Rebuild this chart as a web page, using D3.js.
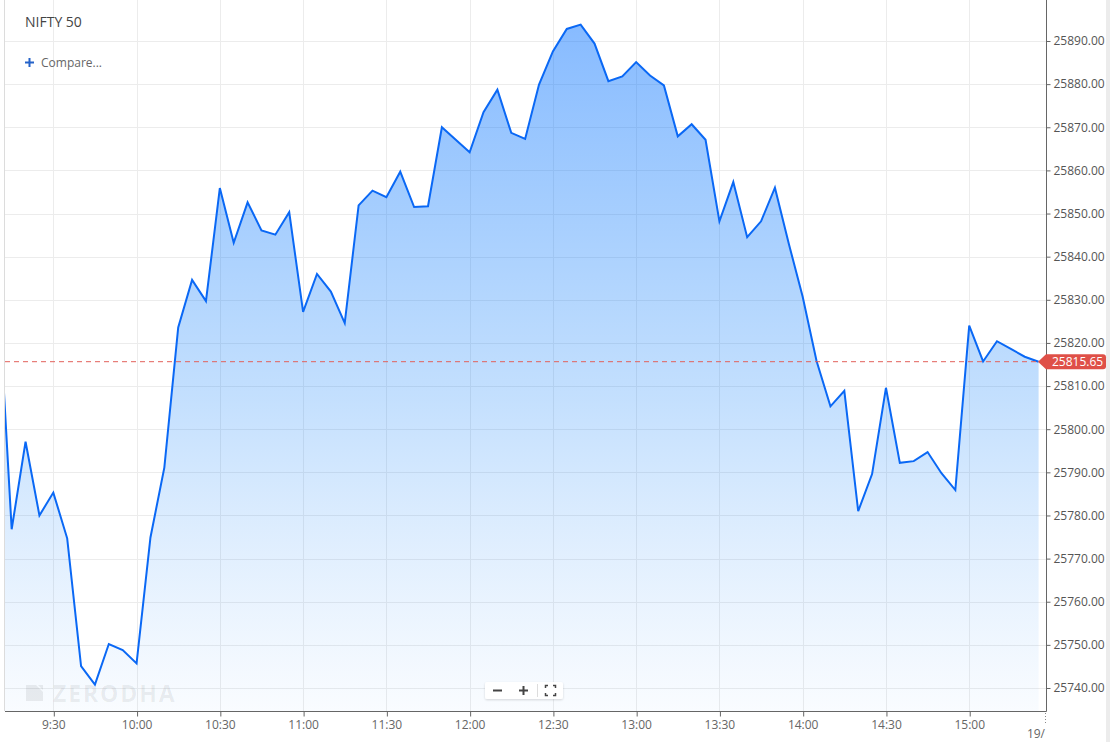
<!DOCTYPE html>
<html>
<head>
<meta charset="utf-8">
<script src="https://cdn.jsdelivr.net/npm/d3@7"></script>
<style>
    body { margin: 0; background: #fff; }
    svg { display: block; font-family: "Open Sans", sans-serif; }
</style>
</head>
<body>
<div id="canvas"></div>
<script>
/**
 * Chart data
 */
const symbolName = "NIFTY 50";
const compareLabel = "Compare...";
const lastPrice = 25815.65;

// first bar is the previous session's last 5 minute close, then 9:15 .. 15:25
const closes = [
    25834.0,
    25776.8, 25797.1, 25780.0, 25785.3, 25774.7, 25745.1, 25740.8, 25750.2, 25748.8,
    25745.7, 25774.9, 25791.1, 25823.6, 25834.6, 25829.7, 25855.9, 25843.2, 25852.6,
    25846.1, 25845.1, 25850.3, 25827.2, 25836.0, 25831.9, 25824.6, 25851.9, 25855.3,
    25853.8, 25859.7, 25851.5, 25851.7, 25870.0, 25867.1, 25864.2, 25873.5, 25878.7,
    25868.7, 25867.3, 25879.9, 25887.6, 25892.8, 25893.8, 25889.4, 25880.7, 25881.8,
    25885.1, 25882.0, 25879.7, 25867.9, 25870.7, 25867.1, 25848.2, 25857.3, 25844.5,
    25848.2, 25856.0, 25843.0, 25830.7, 25815.8, 25805.3, 25808.9, 25781.0, 25789.6,
    25809.6, 25792.2, 25792.6, 25794.7, 25789.8, 25785.9, 25824.0, 25815.7, 25820.4,
    25818.6, 25816.8, 25815.65
];

const timeTicks = ["9:30", "10:00", "10:30", "11:00", "11:30", "12:00", "12:30",
    "13:00", "13:30", "14:00", "14:30", "15:00"];
const priceTicks = [25740, 25750, 25760, 25770, 25780, 25790, 25800, 25810,
    25820, 25830, 25840, 25850, 25860, 25870, 25880, 25890];
const dateTick = "19/";

/**
 * Helper Functions
 */
// bar index of a "h:mm" label, index 1 is 9:15
const barIndex = (label) => {
    const parts = label.split(":").map(Number);
    return 1 + ((parts[0] * 60 + parts[1]) - (9 * 60 + 15)) / 5;
}

function drawChart() {
    const width = 1110, height = 742;
    const plot = {left: 5, right: 1046, top: 0, bottom: 711};

    const svg = d3.select("#canvas")
        .append("svg")
        .attr("width", width)
        .attr("height", height);

    const x = d3.scaleLinear()
        .domain([0, closes.length - 1])
        .range([-2.2, 1038.6]);

    const y = d3.scaleLinear()
        .domain([25740, 25890])
        .range([688, 41]);

    const defs = svg.append("defs");

    defs.append("clipPath")
        .attr("id", "clip")
        .append("rect")
        .attr("x", plot.left)
        .attr("y", plot.top)
        .attr("width", plot.right - plot.left)
        .attr("height", plot.bottom - plot.top);

    const grad = defs.append("linearGradient")
        .attr("id", "areaFill")
        .attr("gradientUnits", "userSpaceOnUse")
        .attr("x1", 0).attr("x2", 0)
        .attr("y1", 25).attr("y2", plot.bottom);
    grad.append("stop").attr("offset", "0%").attr("stop-color", "rgb(0,110,255)").attr("stop-opacity", 0.47);
    grad.append("stop").attr("offset", "55%").attr("stop-color", "rgb(0,120,250)").attr("stop-opacity", 0.23);
    grad.append("stop").attr("offset", "100%").attr("stop-color", "rgb(60,150,250)").attr("stop-opacity", 0.03);

    const shadow = defs.append("filter").attr("id", "shadow")
        .attr("x", "-20%").attr("y", "-40%").attr("width", "140%").attr("height", "180%");
    shadow.append("feDropShadow")
        .attr("dx", 0).attr("dy", 1).attr("stdDeviation", 1.2)
        .attr("flood-color", "#000").attr("flood-opacity", 0.15);

    // right edge strip and left border
    svg.append("rect")
        .attr("x", 1106).attr("y", 0)
        .attr("width", 4).attr("height", height)
        .attr("fill", "#ececec");
    svg.append("line")
        .attr("x1", 4.5).attr("x2", 4.5)
        .attr("y1", 0).attr("y2", plot.bottom)
        .attr("stroke", "#dcdcdc");

    // grid lines
    const grid = svg.append("g").attr("stroke", "#ececec").attr("stroke-width", 1);
    grid.selectAll(".hgrid")
        .data(priceTicks)
        .enter()
        .append("line")
        .attr("x1", plot.left).attr("x2", plot.right)
        .attr("y1", d => Math.round(y(d)) + 0.5)
        .attr("y2", d => Math.round(y(d)) + 0.5);
    grid.selectAll(".vgrid")
        .data(timeTicks)
        .enter()
        .append("line")
        .attr("y1", plot.top).attr("y2", plot.bottom)
        .attr("x1", d => Math.round(x(barIndex(d))) + 0.5)
        .attr("x2", d => Math.round(x(barIndex(d))) + 0.5);

    // watermark
    const wm = svg.append("g").attr("fill", "#000").attr("fill-opacity", 0.07);
    wm.append("path").attr("d", "M26,685 L36,685 L43,692 L43,701 L26,701 Z");
    wm.append("path").attr("d", "M38,685 L43,685 L43,690 Z");
    wm.append("text")
        .attr("x", 53).attr("y", 701.5)
        .attr("font-size", 23).attr("font-weight", 700)
        .attr("letter-spacing", 1.9)
        .text("ZERODHA");

    // area and line
    const chart = svg.append("g").attr("clip-path", "url(#clip)");

    chart.append("path")
        .datum(closes)
        .attr("fill", "url(#areaFill)")
        .attr("d", d3.area()
            .x((d, i) => x(i))
            .y0(plot.bottom)
            .y1(d => y(d)));

    chart.append("path")
        .datum(closes)
        .attr("fill", "none")
        .attr("stroke", "#0a68f5")
        .attr("stroke-width", 2)
        .attr("stroke-linejoin", "miter")
        .attr("d", d3.line()
            .x((d, i) => x(i))
            .y(d => y(d)));

    // last price line
    svg.append("line")
        .attr("x1", plot.left).attr("x2", 1040)
        .attr("y1", y(lastPrice)).attr("y2", y(lastPrice))
        .attr("stroke", "#e2605a")
        .attr("stroke-width", 1)
        .attr("stroke-dasharray", "5,4");

    // bottom axis
    const xAxis = svg.append("g")
        .attr("transform", "translate(0," + (plot.bottom + 0.5) + ")")
        .call(d3.axisBottom(x)
            .tickValues(timeTicks.map(barIndex))
            .tickFormat((d, i) => timeTicks[i])
            .tickSize(5)
            .tickPadding(4));
    xAxis.select(".domain").remove();
    xAxis.selectAll("line").attr("stroke", "#666").attr("transform", "translate(0.5,0)");
    xAxis.selectAll("text")
        .attr("fill", "#666")
        .attr("font-size", 12)
        .attr("font-family", "Open Sans, sans-serif");
    svg.append("line")
        .attr("x1", plot.left).attr("x2", plot.right + 0.5)
        .attr("y1", plot.bottom + 0.5).attr("y2", plot.bottom + 0.5)
        .attr("stroke", "#666");

    // date tick at the right end
    svg.append("line")
        .attr("x1", plot.right - 0.5).attr("x2", plot.right - 0.5)
        .attr("y1", plot.bottom + 2).attr("y2", plot.bottom + 14)
        .attr("stroke", "#888")
        .attr("stroke-dasharray", "1,2");
    svg.append("text")
        .attr("x", plot.right - 1).attr("y", 737.5)
        .attr("text-anchor", "end")
        .attr("fill", "#666").attr("font-size", 12)
        .text(dateTick);

    // right axis
    const yAxis = svg.append("g")
        .attr("transform", "translate(" + (plot.right + 0.5) + ",0)")
        .call(d3.axisRight(y)
            .tickValues(priceTicks)
            .tickFormat(d3.format(".2f"))
            .tickSize(4)
            .tickPadding(3));
    yAxis.select(".domain").remove();
    yAxis.selectAll("line").attr("stroke", "#666");
    yAxis.selectAll("text")
        .attr("fill", "#555")
        .attr("font-size", 12)
        .attr("font-family", "Open Sans, sans-serif");
    svg.append("line")
        .attr("x1", plot.right + 0.5).attr("x2", plot.right + 0.5)
        .attr("y1", 0).attr("y2", plot.bottom + 0.5)
        .attr("stroke", "#666");

    // last price flag
    const py = y(lastPrice);
    svg.append("path")
        .attr("d", "M1038," + py + " L1046," + (py - 7.5) + " L1103," + (py - 7.5)
            + " Q1106," + (py - 7.5) + " 1106," + (py - 4.5)
            + " L1106," + (py + 4.5)
            + " Q1106," + (py + 7.5) + " 1103," + (py + 7.5)
            + " L1046," + (py + 7.5) + " Z")
        .attr("fill", "#df5048");
    svg.append("text")
        .attr("x", 1052).attr("y", py + 4.3)
        .attr("fill", "#fff").attr("font-size", 12)
        .text(d3.format(".2f")(lastPrice));

    // title and compare link
    svg.append("text")
        .attr("x", 25).attr("y", 27)
        .attr("fill", "#444").attr("font-size", 14)
        .text(symbolName);
    svg.append("path")
        .attr("d", "M25,62.5 L34,62.5 M29.5,58 L29.5,67")
        .attr("stroke", "#2563c9").attr("stroke-width", 2);
    svg.append("text")
        .attr("x", 41).attr("y", 66.5)
        .attr("fill", "#666").attr("font-size", 12)
        .text(compareLabel);

    // zoom controls
    const zc = svg.append("g");
    zc.append("rect")
        .attr("x", 485).attr("y", 682)
        .attr("width", 78).attr("height", 17)
        .attr("rx", 2)
        .attr("fill", "#fff")
        .attr("filter", "url(#shadow)");
    zc.append("path")
        .attr("d", "M493,690.5 L502,690.5 M519,690.5 L528,690.5 M523.5,686 L523.5,695")
        .attr("stroke", "#444").attr("stroke-width", 2);
    zc.append("line")
        .attr("x1", 537.5).attr("x2", 537.5)
        .attr("y1", 684).attr("y2", 697)
        .attr("stroke", "#ddd");
    zc.append("path")
        .attr("d", "M545.5,688 L545.5,685.5 L548,685.5 M553,685.5 L555.5,685.5 L555.5,688"
            + " M555.5,693 L555.5,695.5 L553,695.5 M548,695.5 L545.5,695.5 L545.5,693")
        .attr("fill", "none")
        .attr("stroke", "#444").attr("stroke-width", 1.5);
}

drawChart();
</script>
</body>
</html>
